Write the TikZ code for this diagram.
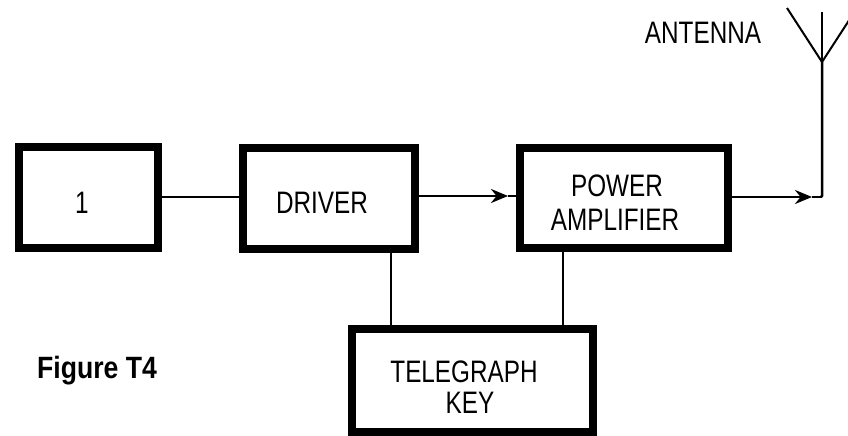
\documentclass[tikz,border=0pt]{standalone}
\usepackage{fontspec}
\usepackage{graphicx}
\setmainfont{Liberation Sans}
\usetikzlibrary{arrows.meta}
\newcommand\pixtxt[1]{\scalebox{0.9}[1.15]{\fontsize{27}{32}\selectfont #1}}
\begin{document}
\begin{tikzpicture}[x=1pt,y=-1pt,
  blockbox/.style={draw=black,line width=8pt,rectangle,inner sep=0pt},
  lbl/.style={inner sep=0pt,align=center},
  wire/.style={line width=2.5pt,line cap=butt},
  tip/.style={-{Stealth[length=17pt,width=14pt]}}
]
\useasboundingbox[fill=white] (0,0) rectangle (848,436);
\begin{scope}
\clip (0,0) rectangle (848,436);
% boxes (outer size minus line width)
\node[blockbox,minimum width=139pt,minimum height=101pt] (b1) at (88.5,197.5) {};
\node[blockbox,minimum width=172pt,minimum height=101pt] (drv) at (329,198.5) {};
\node[blockbox,minimum width=208pt,minimum height=100pt] (pa) at (624,198) {};
\node[blockbox,minimum width=241pt,minimum height=103pt] (tk) at (472.5,380.5) {};
% texts
\node[lbl] (t1) at (82,203) {\pixtxt{1}};
\node[lbl] (tdrv) at (322,203) {\pixtxt{DRIVER}};
\node[lbl] (tpa1) at (617,186) {\pixtxt{POWER}};
\node[lbl] (tpa2) at (615,220) {\pixtxt{AMPLIFIER}};
\node[lbl] (ttk1) at (464,372) {\pixtxt{TELEGRAPH}};
\node[lbl] (ttk2) at (470,403) {\pixtxt{KEY}};
\node[lbl] (tant) at (703,33) {\pixtxt{ANTENNA}};
\node[inner sep=0pt] (fig) at (97,371) {\scalebox{0.95}[1.1]{\fontsize{28}{32}\selectfont\bfseries Figure T4}};
% helper coordinates
\coordinate (tipA) at (508,196);
\coordinate (tipB) at (812,197);
\coordinate (corner) at (822,197);
\coordinate (base) at (822,62);
\coordinate (mast) at (822,12);
\coordinate (armL) at (787,8);
\coordinate (armR) at (857,8);
\coordinate (kd) at (391,0);
\coordinate (kp) at (563,0);
% connectors
\draw[wire] (b1.east |- 0,197) -- (drv.west |- 0,197);
\draw[wire,tip] (drv.east |- tipA) -- (tipA);
\draw[wire] (tipA) -- (pa.west |- tipA);
\draw[wire,tip] (pa.east |- tipB) -- (tipB);
\draw[wire] (tipB) -- (corner);
\draw[wire,line join=miter] ([xshift=-1pt]corner) -- ([yshift=1.25pt]corner) -- (base);
\draw[line width=2pt] (base) -- (mast);
\draw[line width=2pt] (armL) -- (base) -- (armR);
\draw[wire] (drv.south -| kd) -- (tk.north -| kd);
\draw[wire] (pa.south -| kp) -- (tk.north -| kp);
\end{scope}
\end{tikzpicture}
\end{document}
